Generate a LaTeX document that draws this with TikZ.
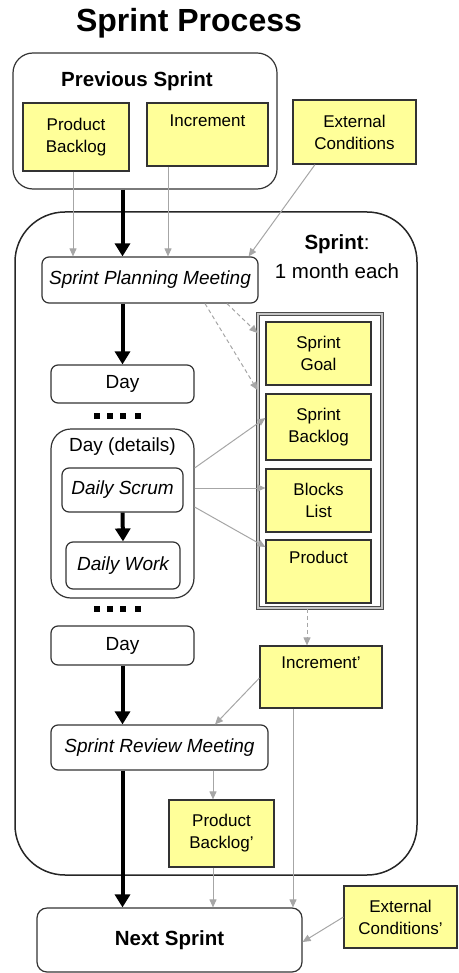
\documentclass[tikz,border=0pt]{standalone}
\usepackage{fontspec}
\setmainfont{Liberation Sans}
\usetikzlibrary{arrows.meta}

\definecolor{note}{HTML}{FFFF99}

\begin{document}
\begin{tikzpicture}[x=1pt, y=-1pt,
                    yellow node/.style={rectangle,draw=black!80,line width=1.2pt,fill=note,align=center,
                                        inner sep=2pt,font=\fontsize{17}{22}\selectfont},
                    white node/.style={rectangle,rounded corners=7pt,draw=black!80,line width=1.2pt,
                                       fill=white,align=center,font=\fontsize{19}{23}\selectfont},
                    flow/.style={line width=4pt,-{Triangle[width=15pt,length=13pt]}},
                    feed/.style={draw=gray!70,line width=1pt,-{Triangle[width=7pt,length=8pt]}},
                    plan/.style={feed,dashed,dash pattern=on 4pt off 3pt}]

  \useasboundingbox (0,0) rectangle (458,973);

  \node[font=\bfseries\fontsize{32}{36}\selectfont] (title) at (189,23) {Sprint Process};

  % previous sprint
  \node[draw=black!80,line width=1.2pt,rounded corners=20pt,minimum width=264pt,minimum height=136pt] (prev) at (145,121) {};
  \node[font=\bfseries\fontsize{20.5}{24}\selectfont] (prevlabel) at (137,81) {Previous Sprint};
  \node[yellow node,minimum width=106pt,minimum height=68pt] (pb) at (76,137) {Product\\Backlog};
  \node[yellow node,minimum width=121pt,minimum height=63pt] (inc) at (207.5,134.5) {Increment\\ \strut};
  \node[yellow node,minimum width=123pt,minimum height=64pt] (ext) at (354.5,132) {External\\Conditions};

  % sprint
  \node[draw=black!85,line width=1.5pt,rounded corners=50pt,minimum width=402pt,minimum height=663pt] (sprint) at (216,543.5) {};
  \node[align=center,font=\fontsize{20.5}{29}\selectfont] (sprintlabel) at (337,257) {\textbf{Sprint}:\\1 month each};

  \node[white node,minimum width=216pt,minimum height=46pt,font=\itshape\fontsize{19}{23}\selectfont] (spm) at (150,280) {Sprint Planning Meeting};
  \node[white node,minimum width=143pt,minimum height=38pt] (day1) at (122.5,384) {Day};
  \node[white node,rounded corners=20pt,minimum width=143pt,minimum height=169pt] (details) at (122.5,513.5) {};
  \node[font=\fontsize{19}{23}\selectfont] (detailslabel) at (122.5,447) {Day (details)};
  \node[white node,minimum width=121pt,minimum height=44pt,font=\itshape\fontsize{19}{23}\selectfont] (scrum) at (122.5,490) {Daily Scrum};
  \node[white node,minimum width=114pt,minimum height=47pt,font=\itshape\fontsize{19}{23}\selectfont] (work) at (123,565.5) {Daily Work};
  \node[white node,minimum width=143pt,minimum height=39pt] (day2) at (122.5,645.5) {Day};
  \node[white node,minimum width=217pt,minimum height=45pt,font=\itshape\fontsize{19}{23}\selectfont] (srm) at (159.5,747.5) {Sprint Review Meeting};

  \foreach \y in {416,609}
    \foreach \x in {97,110,123,138}
      \fill (\x-2.7,\y-2.7) rectangle (\x+2.7,\y+2.7);

  % artefacts
  \node[draw=black!70,line width=1.2pt,double=gray!45,double distance=1.2pt,minimum width=124pt,minimum height=294pt] (cont) at (320,461) {};
  \node[yellow node,minimum width=105pt,minimum height=63pt] (goal) at (318.5,353.5) {Sprint\\Goal};
  \node[yellow node,minimum width=105pt,minimum height=66pt] (sbl) at (318.5,427) {Sprint\\Backlog};
  \node[yellow node,minimum width=105pt,minimum height=63pt] (blocks) at (318.5,500.5) {Blocks\\List};
  \node[yellow node,minimum width=105pt,minimum height=63pt] (product) at (318.5,571.5) {Product\\ \strut};
  \node[yellow node,minimum width=122pt,minimum height=62pt] (incp) at (321,677) {Increment'\\ \strut};
  \node[yellow node,minimum width=105pt,minimum height=67pt] (pbp) at (221.5,833.5) {Product\\Backlog'};

  % next sprint
  \node[white node,rounded corners=10pt,minimum width=265pt,minimum height=64pt,font=\bfseries\fontsize{20.5}{24}\selectfont] (next) at (169.5,940) {Next Sprint};
  \node[yellow node,minimum width=113pt,minimum height=62pt] (extp) at (400.5,917) {External\\Conditions'};

  % main flow
  \draw[flow] (prev.south -| day1) -- (spm.north -| day1);
  \draw[flow] (spm.south -| day1) -- (day1.north);
  \draw[flow] (scrum.south) -- (work.north);
  \draw[flow] (day2.south) -- (srm.north -| day2);
  \draw[flow] (srm.south -| day2) -- (next.north -| day2);

  % inputs and outputs
  \draw[feed] (pb.south -| 73,0) -- (spm.north -| 73,0);
  \draw[feed] (inc.south -| 168,0) -- (spm.north -| 168,0);
  \draw[feed] (ext.south -| 315,0) -- ([xshift=-10pt]spm.north east);
  \draw[plan] (spm.south -| 227,0) -- (cont.west |- 0,333);
  \draw[plan] (spm.south -| 205,0) -- (cont.west |- 0,390);
  \draw[feed] (details.east |- 0,468) -- (sbl.west |- 0,418);
  \draw[feed] (details.east |- 0,488) -- (blocks.west |- 0,488);
  \draw[feed] (details.east |- 0,507) -- (product.west |- 0,547);
  \draw[plan] (cont.south -| 307,0) -- (incp.north -| 307,0);
  \draw[feed] (incp.west |- 0,678) -- (srm.north -| 215,0);
  \draw[feed] (incp.south -| 293,0) -- (next.north -| 293,0);
  \draw[feed] (srm.south -| 213,0) -- (pbp.north -| 213,0);
  \draw[feed] (pbp.south -| 213,0) -- (next.north -| 213,0);
  \draw[feed] (extp.west |- 0,917) -- (next.east |- 0,942);

\end{tikzpicture}
\end{document}
